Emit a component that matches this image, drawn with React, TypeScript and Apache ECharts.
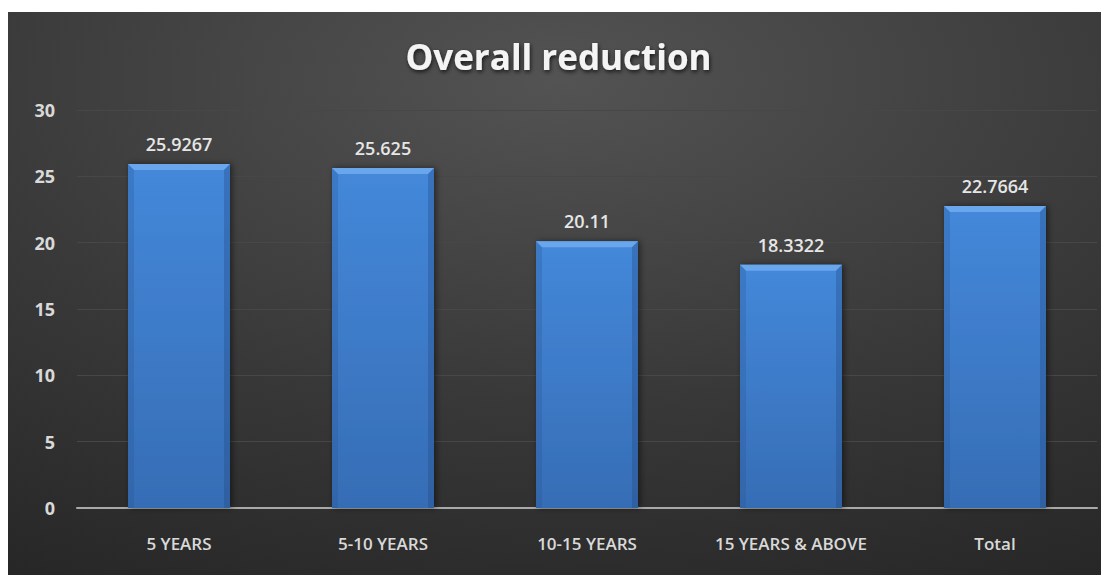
import React, { useEffect, useRef } from "react";
import * as echarts from "echarts";

// Age bands and the overall reduction in each
const categories = ["5 YEARS", "5-10 YEARS", "10-15 YEARS", "15 YEARS & ABOVE", "Total"];
const reductionValues = [25.9267, 25.625, 20.11, 18.3322, 22.7664];
const valueLabels = ["25.9267", "25.625", "20.11", "18.3322", "22.7664"];

const FONT = "'Open Sans', 'Noto Sans', sans-serif";

export default function App() {
  const ref = useRef<HTMLDivElement>(null);

  useEffect(() => {
    if (!ref.current) return;
    const chart = echarts.init(ref.current, null, { renderer: "svg" });

    const bevelData = reductionValues.map((v, i) => [i, v]);

    const option: any = {
      animation: false,
      backgroundColor: {
        type: "radial",
        x: 0.5,
        y: 0.12,
        r: 1.05,
        colorStops: [
          { offset: 0, color: "#535353" },
          { offset: 0.55, color: "#383838" },
          { offset: 1, color: "#252525" },
        ],
      },
      title: {
        text: "Overall reduction",
        left: "center",
        top: 22,
        textStyle: {
          color: "#f4f4f4",
          fontFamily: FONT,
          fontSize: 35,
          fontWeight: "bold",
          textShadowColor: "rgba(0,0,0,0.7)",
          textShadowBlur: 4,
          textShadowOffsetX: 1,
          textShadowOffsetY: 2,
        },
      },
      grid: { left: 69, right: 12, top: 98, bottom: 67 },
      xAxis: {
        type: "category",
        data: categories,
        axisLine: { lineStyle: { color: "#a9a9a9", width: 2 } },
        axisTick: { show: false },
        axisLabel: {
          color: "#d9d9d9",
          fontFamily: FONT,
          fontSize: 17,
          fontWeight: 600,
          margin: 27,
        },
      },
      yAxis: {
        type: "value",
        min: 0,
        max: 30,
        interval: 5,
        axisLine: { show: false },
        axisTick: { show: false },
        splitLine: { lineStyle: { color: "#474747", width: 1 } },
        axisLabel: {
          color: "#d9d9d9",
          fontFamily: FONT,
          fontSize: 18,
          fontWeight: "bold",
          margin: 22,
        },
      },
      series: [
        {
          type: "bar",
          data: reductionValues,
          barWidth: "50%",
          itemStyle: {
            color: {
              type: "linear",
              x: 0,
              y: 0,
              x2: 0,
              y2: 1,
              colorStops: [
                { offset: 0, color: "#4488da" },
                { offset: 1, color: "#366db5" },
              ],
            },
            shadowColor: "rgba(0,0,0,0.5)",
            shadowBlur: 6,
            shadowOffsetX: 2,
          },
          label: {
            show: true,
            position: "top",
            distance: 11,
            color: "#e6e6e6",
            fontFamily: FONT,
            fontSize: 18,
            fontWeight: 600,
            formatter: (p: any) => valueLabels[p.dataIndex],
          },
          z: 2,
        },
        {
          // bevel highlights on the bar tops and sides
          type: "custom",
          data: bevelData,
          encode: { x: 0, y: 1 },
          z: 3,
          silent: true,
          renderItem: (params: any, api: any) => {
            const top = api.coord([api.value(0), api.value(1)]);
            const base = api.coord([api.value(0), 0]);
            const w = api.size([1, 0])[0] * 0.5;
            const x0 = top[0] - w / 2;
            const x1 = top[0] + w / 2;
            const y0 = top[1];
            const y1 = base[1];
            const b = 6;
            return {
              type: "group",
              children: [
                {
                  type: "polygon",
                  shape: { points: [[x0, y0], [x1, y0], [x1 - b, y0 + b], [x0 + b, y0 + b]] },
                  style: { fill: "#6aa6ec" },
                },
                {
                  type: "polygon",
                  shape: { points: [[x0, y0], [x0 + b, y0 + b], [x0 + b, y1], [x0, y1]] },
                  style: { fill: "rgba(40,80,140,0.25)" },
                },
                {
                  type: "polygon",
                  shape: { points: [[x1, y0], [x1 - b, y0 + b], [x1 - b, y1], [x1, y1]] },
                  style: { fill: "rgba(30,65,120,0.3)" },
                },
              ],
            };
          },
        },
      ],
    };

    chart.setOption(option);
    return () => chart.dispose();
  }, []);

  return <div ref={ref} style={{ width: 1101, height: 563, marginTop: 4 }} />;
}
